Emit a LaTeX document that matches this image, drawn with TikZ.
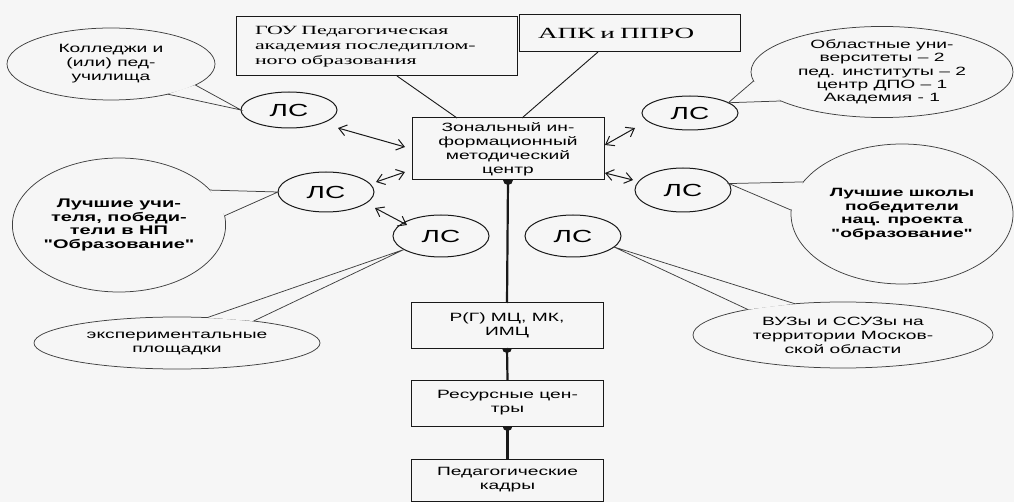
\documentclass[tikz,border=0pt]{standalone}
\usepackage{fontspec}
\setmainfont[FakeStretch=1.6, Ligatures=TeXOff]{Liberation Sans}
\newfontfamily\serifst[FakeStretch=1.75, Ligatures=TeXOff]{Liberation Serif}
\usetikzlibrary{shapes.geometric,calc,arrows.meta}
\definecolor{bg}{RGB}{246,246,246}
\definecolor{ink}{RGB}{25,25,25}
\tikzset{
  every node/.style={inner sep=0pt, outer sep=0pt},
  box/.style={draw=ink, line width=1pt, fill=bg, minimum width=192pt, align=center,
    font=\fontsize{12}{14}\selectfont},
  sbox/.style={draw=ink, line width=1pt, fill=bg, align=left, inner xsep=19pt},
  lsnode/.style={ellipse, draw=ink, line width=1pt, fill=bg, minimum width=96pt,
    font=\fontsize{17.5}{20}\selectfont},
  callout/.style={ellipse, draw=black!75, line width=0.75pt, fill=bg, align=center,
    font=\fontsize{12}{14}\selectfont},
  tail/.style={draw=black!75, line width=0.75pt},
  tailfill/.style={fill=bg},
  biarrow/.style={{Straight Barb[length=7.5pt,width=11pt]}-{Straight Barb[length=7.5pt,width=11pt]}, line width=1pt, draw=ink},
  vconn/.style={draw=ink, line width=2.2pt},
  thinline/.style={draw=ink, line width=0.9pt},
}
\newcommand{\blob}[1]{\fill[ink] ($(#1)+(-5,0)$) arc[start angle=180, end angle=0, radius=5];}
\begin{document}
\begin{tikzpicture}[x=1pt,y=-1pt]
\useasboundingbox (0,0) rectangle (1014,502);
\fill[bg] (0,0) rectangle (1014,502);

% boxes
\node[sbox, text width=243pt, minimum height=59pt, font=\serifst\fontsize{12.5}{15}\selectfont]
  (gou) at (376.5,46.5) {ГОУ Педагогическая\\академия последиплом-\\ного образования};
\node[sbox, text width=183pt, minimum height=37pt, font=\serifst\fontsize{15.5}{18}\selectfont]
  (apk) at (629.5,33.5) {АПК и ППРО};
\node[box, minimum height=62pt] (zimc) at (508,149) {Зональный ин-\\формационный\\методический\\центр};
\node[box, minimum height=45pt] (pmc) at (507,325.5) {Р(Г) МЦ, МК,\\ИМЦ};
\node[box, minimum height=46pt] (rc) at (507.5,403) {Ресурсные цен-\\тры};
\node[box, minimum height=42pt] (pk) at (507.5,480) {Педагогические\\кадры};

% callouts
\node[callout, minimum width=208pt, minimum height=72pt] (ca) at (111,64)
  {Колледжи и\\(или) пед-\\училища};
\node[callout, minimum width=212pt, minimum height=134pt, font=\bfseries\fontsize{12.5}{13.8}\selectfont] (cb) at (119,225)
  {Лучшие учи-\\теля, победи-\\тели в НП\\"Образование"};
\node[callout, minimum width=286pt, minimum height=52pt] (cc) at (177,343)
  {экспериментальные\\площадки};
\node[callout, minimum width=262pt, minimum height=90pt, font=\fontsize{12}{13.3}\selectfont] (cd) at (882,72)
  {Областные уни-\\верситеты – 2\\пед. институты – 2\\центр ДПО – 1\\Академия - 1};
\node[callout, minimum width=222pt, minimum height=140pt, font=\bfseries\fontsize{12}{13.5}\selectfont] (ce) at (902,214)
  {Лучшие школы\\победители\\нац. проекта\\"образование"};
\node[callout, minimum width=300pt, minimum height=66pt] (cf) at (843,335)
  {ВУЗы и ССУЗы на\\территории Москов-\\ской области};

% LS nodes
\node[lsnode, minimum height=36pt] (ls1) at (289,110) {ЛС};
\node[lsnode, minimum height=40pt] (ls2) at (326,192) {ЛС};
\node[lsnode, minimum height=42pt] (ls3) at (441,236) {ЛС};
\node[lsnode, minimum height=34pt] (ls4) at (690,113) {ЛС};
\node[lsnode, minimum height=44pt] (ls5) at (683,190) {ЛС};
\node[lsnode, minimum height=42pt] (ls6) at (573,236) {ЛС};

% callout tails
\fill[tailfill] (ca.-14) -- (ls1.west) -- (ca.-28) -- cycle;
\draw[tail] (ca.-14) -- (ls1.west) -- (ca.-28);
\fill[tailfill] (cb.21) -- (ls2.west) -- (cb.5) -- cycle;
\draw[tail] (cb.21) -- (ls2.west) -- (cb.5);
\fill[tailfill] (cc.40) -- (ls3.200) -- (cc.16) -- cycle;
\draw[tail] (cc.40) -- (ls3.200) -- (cc.16);
\fill[tailfill] (cd.184) -- (ls4.15) -- (cd.196) -- cycle;
\draw[tail] (cd.184) -- (ls4.15) -- (cd.196);
\fill[tailfill] (ce.162) -- (ls5.8) -- (ce.178) -- cycle;
\draw[tail] (ce.162) -- (ls5.8) -- (ce.178);
\fill[tailfill] (cf.165) -- (ls6.-15) -- (cf.147) -- cycle;
\draw[tail] (cf.165) -- (ls6.-15) -- (cf.147);

% lines from top boxes
\draw[thinline] ($(gou.south west)+(161,0)$) -- ($(zimc.north west)+(45,0)$);
\draw[thinline] ($(apk.south west)+(79,0)$) -- ($(zimc.north west)+(110,0)$);

% bidirectional arrows
\draw[biarrow] ($(ls1.east)+(1,18)$) -- ($(zimc.west)+(-7,-2)$);
\draw[biarrow] ($(ls2.east)+(2,-10)$) -- ($(zimc.south west)+(-7,-8)$);
\draw[biarrow] ($(ls2.east)+(1,16)$) -- ($(ls3.west)+(14,-11)$);
\draw[biarrow] ($(zimc.north east)+(1,27)$) -- ($(ls4.west)+(-7,15)$);
\draw[biarrow] ($(zimc.south east)+(1,-7)$) -- ($(ls5.west)+(-2,-10)$);

% vertical connectors
\draw[vconn] (zimc.south) -- (pmc.north);
\blob{zimc.south}
\draw[vconn] (pmc.south) -- (rc.north);
\blob{pmc.south}
\draw[vconn] (rc.south) -- (pk.north);
\blob{rc.south}
\end{tikzpicture}
\end{document}
